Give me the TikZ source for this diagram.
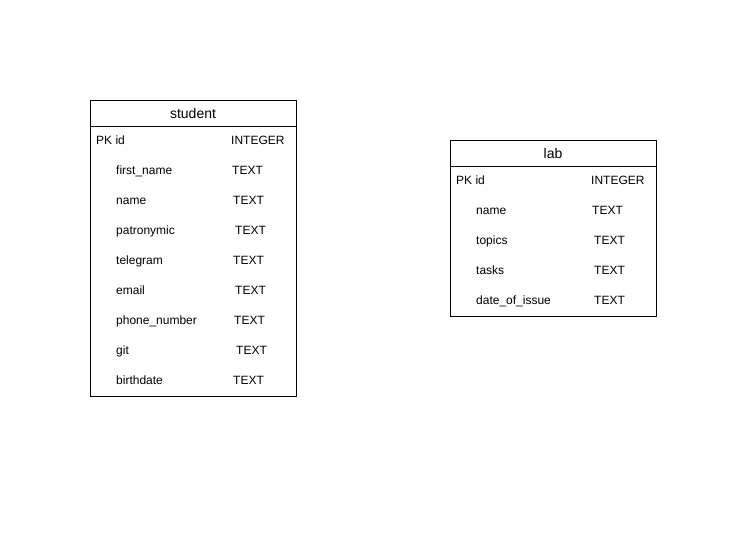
\documentclass[tikz,border=0pt]{standalone}
\usepackage{fontspec}
\setmainfont{Liberation Sans}
\begin{document}
\begin{tikzpicture}[x=1pt,y=-1pt,
  tbl/.style={draw=black,line width=0.9pt,fill=white},
  title/.style={font=\fontsize{14}{16}\selectfont,anchor=center,inner sep=0pt,text height=10pt,text depth=0pt},
  fld/.style={font=\fontsize{12}{14}\selectfont,anchor=west,inner sep=0pt,text height=8.6pt,text depth=0pt}]
\useasboundingbox[fill=white] (0,0) rectangle (730,534);

% student table
\draw[tbl] (90,100) rectangle (296,396);
\draw[line width=0.9pt] (90,126) -- (296,126);
\node[title] (st) at (193,113.5) {student};
\node[fld] (s1n) at (96,140) {PK id};        \node[fld] (s1t) at (231,140) {INTEGER};
\node[fld] (s2n) at (116,170) {first\_name}; \node[fld] (s2t) at (232,170) {TEXT};
\node[fld] (s3n) at (116,200) {name};        \node[fld] (s3t) at (233,200) {TEXT};
\node[fld] (s4n) at (116,230) {patronymic};  \node[fld] (s4t) at (235,230) {TEXT};
\node[fld] (s5n) at (116,260) {telegram};    \node[fld] (s5t) at (233,260) {TEXT};
\node[fld] (s6n) at (116,290) {email};       \node[fld] (s6t) at (235,290) {TEXT};
\node[fld] (s7n) at (116,320) {phone\_number}; \node[fld] (s7t) at (234,320) {TEXT};
\node[fld] (s8n) at (116,350) {git};         \node[fld] (s8t) at (236,350) {TEXT};
\node[fld] (s9n) at (116,380) {birthdate};   \node[fld] (s9t) at (233,380) {TEXT};

% lab table
\draw[tbl] (450,140) rectangle (656,316);
\draw[line width=0.9pt] (450,166) -- (656,166);
\node[title] (lt) at (553,153.5) {lab};
\node[fld] (l1n) at (456,180) {PK id};          \node[fld] (l1t) at (591,180) {INTEGER};
\node[fld] (l2n) at (476,210) {name};           \node[fld] (l2t) at (592,210) {TEXT};
\node[fld] (l3n) at (476,240) {topics};         \node[fld] (l3t) at (594,240) {TEXT};
\node[fld] (l4n) at (476,270) {tasks};          \node[fld] (l4t) at (594,270) {TEXT};
\node[fld] (l5n) at (476,300) {date\_of\_issue}; \node[fld] (l5t) at (594,300) {TEXT};
\end{tikzpicture}
\end{document}
